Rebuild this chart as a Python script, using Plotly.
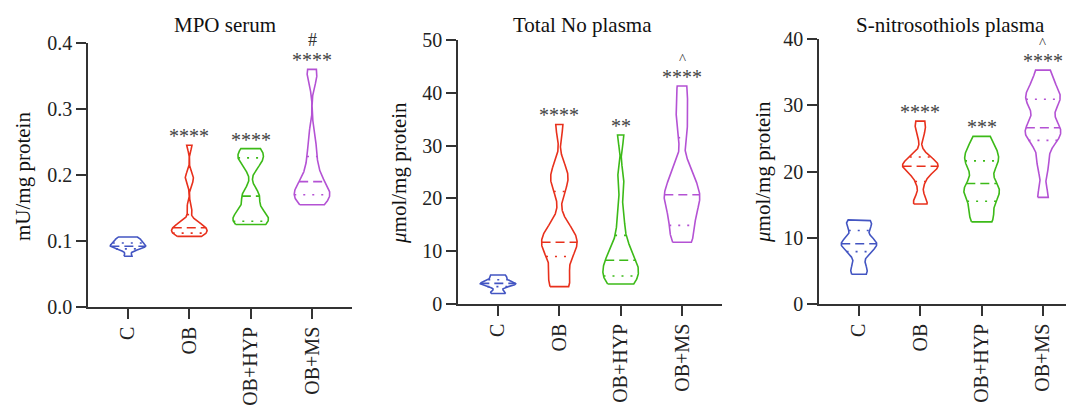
import numpy as np
import plotly.graph_objects as go

CATS = ["C", "OB", "OB+HYP", "OB+MS"]
COLORS = ["#4355c2", "#e8301c", "#3cba18", "#b452d4"]

# Panel 1: MPO serum (mU/mg protein) - sample values per group
MPO_C = [0.077, 0.088, 0.090, 0.092, 0.093, 0.095, 0.098, 0.101, 0.104, 0.106]
MPO_OB = [0.107, 0.109, 0.111, 0.113, 0.115, 0.118, 0.120, 0.122, 0.125, 0.130, 0.150, 0.19, 0.20, 0.245]
MPO_HYP = [0.125, 0.128, 0.132, 0.138, 0.145, 0.165, 0.172, 0.215, 0.225, 0.232, 0.240]
MPO_MS = [0.155, 0.160, 0.165, 0.168, 0.172, 0.176, 0.182, 0.19, 0.20, 0.215, 0.235, 0.26, 0.345, 0.36]
MPO_MED = [0.092, 0.120, 0.168, 0.190]
MPO_Q1 = [0.088, 0.112, 0.130, 0.170]
MPO_Q3 = [0.097, 0.140, 0.226, 0.228]

# Panel 2: Total NO plasma (umol/mg protein)
NO_C = [2.0, 2.3, 3.4, 3.7, 3.8, 3.9, 4.1, 4.6, 5.2, 5.5]
NO_OB = [3.3, 4.0, 5.5, 8.5, 10.0, 11.0, 11.7, 12.5, 13.5, 15.0, 22.0, 24.0, 25.5, 34.0]
NO_HYP = [3.8, 4.2, 5.0, 5.5, 6.5, 7.5, 8.3, 9.0, 10.5, 13.0, 17.0, 23.5, 32.0]
NO_MS = [11.7, 13.0, 15.0, 17.0, 19.0, 20.0, 20.7, 22.0, 24.0, 26.0, 33.0, 37.0, 41.3]
NO_MED = [3.9, 11.7, 8.3, 20.7]
NO_Q1 = [3.3, 9.0, 5.3, 14.9]
NO_Q3 = [4.6, 21.3, 13.0, 31.5]

# Panel 3: S-nitrosothiols plasma (umol/mg protein)
SN_C = [4.5, 5.5, 7.5, 8.5, 9.0, 9.3, 9.8, 11.5, 12.2, 12.7]
SN_OB = [15.1, 15.6, 18.5, 20.2, 20.6, 20.8, 21.0, 21.4, 22.3, 26.0, 27.6]
SN_HYP = [12.4, 13.5, 15.5, 16.5, 17.5, 18.2, 20.5, 21.5, 22.5, 23.5, 25.3]
SN_MS = [16.1, 21.0, 24.5, 25.5, 26.5, 27.0, 30.0, 31.0, 31.5, 33.0, 35.3]
SN_MED = [9.1, 20.8, 18.2, 26.6]
SN_Q1 = [7.9, 18.5, 15.5, 24.7]
SN_Q3 = [11.1, 22.2, 21.6, 30.9]

TITLES = ["MPO serum", "Total No plasma", "S-nitrosothiols plasma"]
YTITLES = ["mU/mg protein", "<i>μ</i>mol/mg protein", "<i>μ</i>mol/mg protein"]
YTICKS = [[0, 0.1, 0.2, 0.3, 0.4], [0, 10, 20, 30, 40, 50], [0, 10, 20, 30, 40]]
YTICKTEXT = [["0.0", "0.1", "0.2", "0.3", "0.4"], ["0", "10", "20", "30", "40", "50"], ["0", "10", "20", "30", "40"]]
STARS = [["", "****", "****", "****"], ["", "****", "**", "****"], ["", "****", "***", "****"]]
EXTRA = [["", "", "", "#"], ["", "", "", "^"], ["", "", "", "^"]]

PANELS = [
    dict(samples=[MPO_C, MPO_OB, MPO_HYP, MPO_MS], med=MPO_MED, q1=MPO_Q1, q3=MPO_Q3),
    dict(samples=[NO_C, NO_OB, NO_HYP, NO_MS], med=NO_MED, q1=NO_Q1, q3=NO_Q3),
    dict(samples=[SN_C, SN_OB, SN_HYP, SN_MS], med=SN_MED, q1=SN_Q1, q3=SN_Q3),
]

# smoothing (fraction of range) per violin
BW = [[0.13, 0.05, 0.10, 0.07], [0.12, 0.07, 0.07, 0.08], [0.11, 0.08, 0.10, 0.08]]

OFF = 8  # page body margin
W, H = 1074 - OFF, 406 - OFF
HALF = 0.29
XDOM = [(88, 352), (458, 722), (819, 1074)]
YDOM = [(43, 307), (40, 304), (39, 304)]
XRANGE = [[-0.652, 3.652], [-0.652, 3.652], [-0.652, 3.506]]
YRANGE = [[0, 0.4], [0, 50], [0, 40]]
TITLE_X = [225, 582, 950]
YT_X = [23, 399, 763]
YT_Y = [177, 173, 172]
FONT = "Liberation Serif, Times New Roman, serif"
AX = "#333333"


def kde(s, grid, h):
    s = np.asarray(s, dtype=float)
    return np.exp(-0.5 * ((grid[:, None] - s[None, :]) / h) ** 2).sum(axis=1)


def px(v):
    return v / W


def py(v):
    return 1 - v / H


fig = go.Figure()
annotations = []
for p, panel in enumerate(PANELS):
    xa = "x" if p == 0 else f"x{p+1}"
    ya = "y" if p == 0 else f"y{p+1}"
    for j, s in enumerate(panel["samples"]):
        s = np.asarray(s, dtype=float)
        lo, hi = s.min(), s.max()
        grid = np.linspace(lo, hi, 300)
        d = kde(s, grid, BW[p][j] * (hi - lo))
        w = d / d.max() * HALF
        xs = np.concatenate([j - w, (j + w)[::-1], [j - w[0]]])
        ys = np.concatenate([grid, grid[::-1], [grid[0]]])
        fig.add_trace(go.Scatter(x=xs, y=ys, mode="lines", xaxis=xa, yaxis=ya,
                                 line=dict(color=COLORS[j], width=1.6), hoverinfo="skip",
                                 showlegend=False))
        for val, dash in [(panel["med"][j], "9px,5px"), (panel["q1"][j], "2px,7px"), (panel["q3"][j], "2px,7px")]:
            hw = float(np.interp(val, grid, w))
            fig.add_trace(go.Scatter(x=[j - hw, j + hw], y=[val, val], mode="lines", xaxis=xa, yaxis=ya,
                                     line=dict(color=COLORS[j], width=1.6, dash=dash), hoverinfo="skip",
                                     showlegend=False))
        if STARS[p][j]:
            annotations.append(dict(x=j, y=hi, xref=xa, yref=ya, text=STARS[p][j], showarrow=False,
                                    yanchor="bottom", yshift=-4, font=dict(family=FONT, size=20, color="#444")))
        if EXTRA[p][j]:
            annotations.append(dict(x=j, y=hi, xref=xa, yref=ya, text=EXTRA[p][j], showarrow=False,
                                    yanchor="bottom", yshift=17,
                                    font=dict(family=FONT, size=15 if EXTRA[p][j] == "^" else 18, color="#333")))

    x0, x1 = XDOM[p][0] - OFF, XDOM[p][1] - OFF
    y0, y1 = YDOM[p][0] - OFF, YDOM[p][1] - OFF
    axcommon = dict(showline=True, linecolor=AX, linewidth=1.5, ticks="outside", ticklen=10,
                    tickwidth=1.5, tickcolor=AX, showgrid=False, zeroline=False, automargin=False,
                    tickfont=dict(family=FONT, size=20, color="#222"))
    fig.update_layout(**{
        ("xaxis" if p == 0 else f"xaxis{p+1}"): dict(
            domain=[px(x0), min(px(x1), 1.0)], anchor=ya, range=XRANGE[p],
            tickvals=list(range(len(CATS))), ticktext=CATS, tickangle=-90, **axcommon),
        ("yaxis" if p == 0 else f"yaxis{p+1}"): dict(
            domain=[py(y1), py(y0)], anchor=xa, range=YRANGE[p],
            tickvals=YTICKS[p], ticktext=YTICKTEXT[p], **axcommon),
    })
    # panel title
    annotations.append(dict(x=px(TITLE_X[p] - OFF), y=py(25 - OFF), xref="paper", yref="paper",
                            text=TITLES[p], showarrow=False, xanchor="center", yanchor="middle",
                            font=dict(family=FONT, size=21, color="#111")))
    # y axis title
    annotations.append(dict(x=px(YT_X[p] - OFF), y=py(YT_Y[p] - OFF), xref="paper", yref="paper",
                            text=YTITLES[p], showarrow=False, textangle=-90, xanchor="center", yanchor="middle",
                            font=dict(family=FONT, size=21, color="#111")))

fig.update_layout(width=W, height=H, margin=dict(l=0, r=0, t=0, b=0, autoexpand=False),
                  paper_bgcolor="white", plot_bgcolor="white", annotations=annotations,
                  showlegend=False)
fig.write_html("out.html")
